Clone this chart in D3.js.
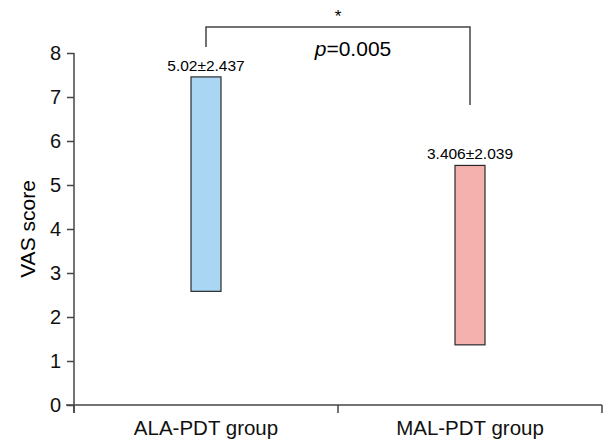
<!DOCTYPE html>
<html>
<head>
<meta charset="utf-8">
<script src="https://cdn.jsdelivr.net/npm/d3@7"></script>
<style>
  body { margin: 0; background: #fff; }
  svg { display: block; font-family: "Liberation Sans", Arial, sans-serif; }
  .axis path, .axis line { stroke: #444; stroke-width: 1.5px; }
  .axis text { fill: #111; }
</style>
</head>
<body>
<svg id="chart" width="605" height="441"></svg>
<script>
// data
var groups = ["ALA-PDT group", "MAL-PDT group"];
var means = [5.02, 3.406];
var sds = [2.437, 2.039];
var labels = ["5.02\u00b12.437", "3.406\u00b12.039"];
var colors = ["#a8d6f3", "#f4b1ae"];
var yTicks = [0, 1, 2, 3, 4, 5, 6, 7, 8];
var pText = "0.005";

var margin = {top: 53, right: 3, bottom: 36, left: 74};
var width = 605, height = 441;

var svg = d3.select('#chart');

var x = d3.scaleBand()
  .domain(groups)
  .range([margin.left, width - margin.right]);

var y = d3.scaleLinear()
  .domain([0, 8])
  .range([height - margin.bottom, margin.top]);

// x axis with ticks on band edges
var xg = svg.append('g')
  .attr('class', 'axis')
  .attr('transform', 'translate(0,' + y(0) + ')');

xg.append('line')
  .attr('x1', margin.left - 8)
  .attr('x2', width - margin.right)
  .attr('y1', 0).attr('y2', 0);

var edges = [margin.left].concat(groups.map(function(g) { return x(g) + x.bandwidth(); }));
xg.selectAll('.edge')
  .data(edges)
  .enter().append('line')
  .attr('class', 'edge')
  .attr('x1', function(d) { return d; })
  .attr('x2', function(d) { return d; })
  .attr('y1', 0).attr('y2', 8);

xg.selectAll('.lab')
  .data(groups)
  .enter().append('text')
  .attr('class', 'lab')
  .attr('x', function(d) { return x(d) + x.bandwidth() / 2; })
  .attr('y', 30)
  .attr('text-anchor', 'middle')
  .style('font-size', '20.5px')
  .text(function(d) { return d; });

// y axis
var yg = svg.append('g')
  .attr('class', 'axis')
  .attr('transform', 'translate(' + margin.left + ',0)')
  .call(d3.axisLeft(y).tickValues(yTicks).tickSize(7).tickPadding(6).tickSizeOuter(0));
yg.select('.domain').attr('d', 'M0,' + (y(0) + 8) + 'V' + y(8));
yg.selectAll('text').style('font-size', '20px');

svg.append('text')
  .attr('transform', 'translate(35,' + ((y(0) + y(8)) / 2) + ') rotate(-90)')
  .attr('text-anchor', 'middle')
  .style('font-size', '21px')
  .text('VAS score');

// floating bars: mean - sd to mean + sd
var barW = 30;
svg.selectAll('.bar')
  .data(groups)
  .enter().append('rect')
  .attr('class', 'bar')
  .attr('x', function(d) { return x(d) + x.bandwidth() / 2 - barW / 2; })
  .attr('width', barW)
  .attr('y', function(d, i) { return y(means[i] + sds[i]); })
  .attr('height', function(d, i) { return y(means[i] - sds[i]) - y(means[i] + sds[i]); })
  .attr('fill', function(d, i) { return colors[i]; })
  .attr('stroke', '#2a2a2a')
  .attr('stroke-width', 1.2);

svg.selectAll('.val')
  .data(groups)
  .enter().append('text')
  .attr('class', 'val')
  .attr('x', function(d) { return x(d) + x.bandwidth() / 2; })
  .attr('y', function(d, i) { return y(means[i] + sds[i]) - 6; })
  .attr('text-anchor', 'middle')
  .style('font-size', '15.5px')
  .text(function(d, i) { return labels[i]; });

// significance bracket
var cx0 = x(groups[0]) + x.bandwidth() / 2;
var cx1 = x(groups[1]) + x.bandwidth() / 2;
var topY = 27;
svg.append('path')
  .attr('d', 'M' + cx0 + ',' + (topY + 20) + 'V' + topY + 'H' + cx1 + 'V' + (topY + 78))
  .attr('fill', 'none')
  .attr('stroke', '#444')
  .attr('stroke-width', 1.5);

svg.append('text')
  .attr('x', (cx0 + cx1) / 2)
  .attr('y', 22)
  .attr('text-anchor', 'middle')
  .style('font-size', '17px')
  .text('*');

var pt = svg.append('text')
  .attr('x', 353)
  .attr('y', 56)
  .attr('text-anchor', 'middle')
  .style('font-size', '21px');
pt.append('tspan').style('font-style', 'italic').text('p');
pt.append('tspan').text('=' + pText);
</script>
</body>
</html>
